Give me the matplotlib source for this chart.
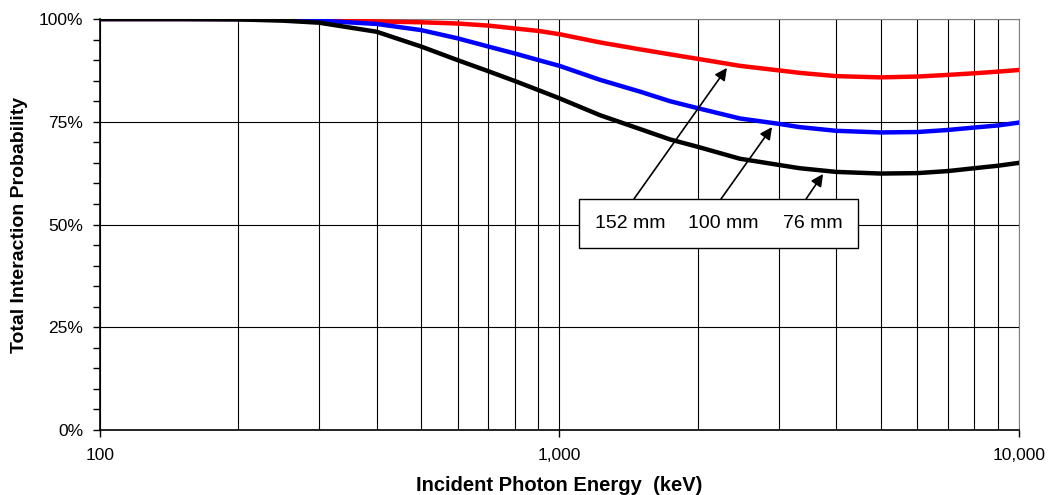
import matplotlib.pyplot as plt
from matplotlib.ticker import FixedLocator, FuncFormatter, MultipleLocator
from matplotlib.patches import Rectangle

plt.rcParams['font.family'] = ['Liberation Sans', 'DejaVu Sans']

# Incident photon energy (keV) and total interaction probability (%)
energy = [100, 150, 200, 250, 300, 400, 500, 600, 700, 800, 900, 1000,
          1225, 1500, 1740, 2000, 2470, 3000, 3330, 4000, 5000, 6000, 7000,
          8000, 9000, 10000]
p152 = [100, 100, 100, 99.9, 99.8, 99.4, 99.2, 98.9, 98.4, 97.7, 97.1, 96.3,
        94.3, 92.6, 91.4, 90.3, 88.6, 87.5, 86.9, 86.1, 85.8, 86.0, 86.4,
        86.8, 87.2, 87.6]
p100 = [100, 100, 100, 99.8, 99.6, 98.8, 97.3, 95.3, 93.3, 91.6, 90.0, 88.6,
        85.2, 82.3, 80.0, 78.3, 75.8, 74.5, 73.7, 72.8, 72.4, 72.5, 73.0,
        73.6, 74.1, 74.8]
p76 = [100, 100, 99.9, 99.6, 99.1, 96.9, 93.3, 90.0, 87.3, 84.9, 82.7, 80.7,
       76.6, 73.2, 70.7, 68.9, 66.0, 64.5, 63.7, 62.8, 62.4, 62.5, 63.0,
       63.7, 64.3, 65.0]

labels = ['152 mm', '100 mm', '76 mm']
# arrow tips on each curve (energy, %)
tip_e = [2314, 2901, 3746]
tip_p = [88.1, 73.7, 62.3]
tail_e = [1452, 2246, 3440]

fig, ax = plt.subplots(figsize=(10.49, 4.95), dpi=100)
fig.subplots_adjust(left=0.0953, right=0.9714, top=0.9616, bottom=0.1313)

ax.plot(energy, p152, color='#ff0000', lw=3.2, zorder=3)
ax.plot(energy, p100, color='#0000ff', lw=3.2, zorder=3)
ax.plot(energy, p76, color='black', lw=3.2, zorder=3)

ax.set_xscale('log')
ax.set_xlim(100, 10000)
ax.set_ylim(0, 100)

ax.xaxis.set_major_locator(FixedLocator([100, 1000, 10000]))
ax.xaxis.set_minor_locator(FixedLocator([m * d for d in (100, 1000) for m in range(2, 10)]))
ax.xaxis.set_major_formatter(FuncFormatter(lambda v, p: f'{int(round(v)):,}'))
ax.yaxis.set_major_locator(MultipleLocator(25))
ax.yaxis.set_minor_locator(MultipleLocator(5))
ax.yaxis.set_major_formatter(FuncFormatter(lambda v, p: f'{int(v)}%'))

ax.grid(which='major', axis='y', color='black', lw=0.8)
ax.grid(which='both', axis='x', color='black', lw=0.8)
ax.set_axisbelow(True)

ax.tick_params(axis='both', which='major', direction='out', length=5, width=1,
               colors='black')
ax.tick_params(axis='x', which='major', labelsize=12.5, pad=8)
ax.tick_params(axis='y', which='major', labelsize=12.5, pad=7)
ax.tick_params(axis='x', which='minor', length=0)
ax.tick_params(axis='y', which='minor', direction='out', length=5, width=1)

for s in ('top', 'right'):
    ax.spines[s].set_color('#808080')
for s in ('left', 'bottom'):
    ax.spines[s].set_color('black')
    ax.spines[s].set_linewidth(1.2)

ax.set_xlabel('Incident Photon Energy  (keV)', fontsize=14.5, fontweight='bold', labelpad=9)
ax.set_ylabel('Total Interaction Probability', fontsize=14, fontweight='bold', labelpad=8)

# label box with arrows
for te, tp, se in zip(tip_e, tip_p, tail_e):
    ax.annotate('', xy=(te, tp), xytext=(se, 56.2),
                arrowprops=dict(arrowstyle='-|>', color='black', lw=1.2,
                                mutation_scale=18, shrinkA=0, shrinkB=0),
                zorder=4)

ax.add_patch(Rectangle((0.521, 0.443), 0.304, 0.119, transform=ax.transAxes,
                       facecolor='white', edgecolor='black', lw=1, zorder=5))
for lab, xf in zip(labels, [0.577, 0.678, 0.776]):
    ax.text(xf, 0.503, lab, transform=ax.transAxes, ha='center', va='center',
            fontsize=14, zorder=6)

plt.savefig('out.png', dpi=100)
